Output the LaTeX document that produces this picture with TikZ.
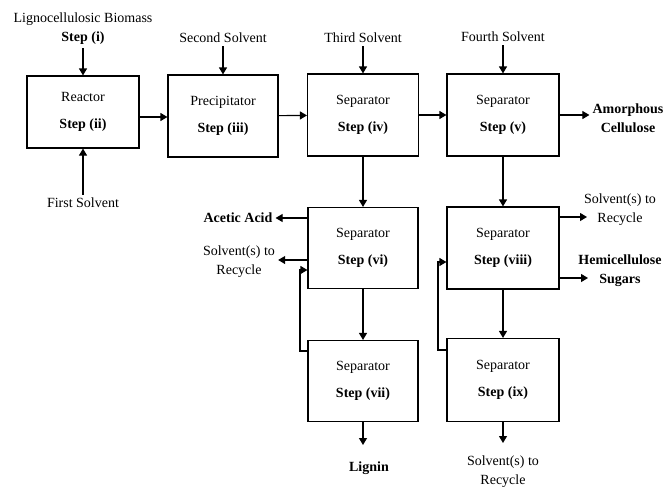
\documentclass[tikz,border=0pt]{standalone}
\usepackage{fontspec}
\setmainfont{Liberation Serif}
\usetikzlibrary{positioning,arrows.meta}

\tikzset{
  unit/.style={draw, line width=1.1pt, align=center, inner sep=0pt,
    font=\fontsize{14}{27}\selectfont},
  feed/.style={align=center, inner sep=3pt, font=\fontsize{14}{19}\selectfont},
  prod/.style={feed, font=\fontsize{14}{19}\selectfont\bfseries},
  flow/.style={line width=1.1pt, -{Triangle[length=7pt,width=8pt]}}
}

\begin{document}
\begin{tikzpicture}[x=1pt,y=-1pt]
	\useasboundingbox (0,0) rectangle (665,491);
	% process units
	\node[unit, minimum width=112pt, minimum height=72pt] (R) at (83,112) {Reactor\\\textbf{Step (ii)}};
	\node[unit, minimum width=110pt, minimum height=82pt] (P) at (223,116) {Precipitator\\\textbf{Step (iii)}};
	\node[unit, minimum width=111pt, minimum height=82pt] (S4) at (363,115) {Separator\\\textbf{Step (iv)}};
	\node[unit, minimum width=112pt, minimum height=82pt] (S5) at (503,115) {Separator\\\textbf{Step (v)}};
	\node[unit, minimum width=110pt, minimum height=81pt] (S6) at (363,248) {Separator\\\textbf{Step (vi)}};
	\node[unit, minimum width=112pt, minimum height=82pt] (S8) at (503,248) {Separator\\\textbf{Step (viii)}};
	\node[unit, minimum width=110pt, minimum height=81pt] (S7) at (363,381) {Separator\\\textbf{Step (vii)}};
	\node[unit, minimum width=112pt, minimum height=83pt] (S9) at (503,380) {Separator\\\textbf{Step (ix)}};
	% feeds
	\node[feed] (Bio) at (83,29) {Lignocellulosic Biomass\\\textbf{Step (i)}};
	\node[feed] (Sol1) at (83,203) {First Solvent};
	\node[feed] (Sol2) at (223,38) {Second Solvent};
	\node[feed] (Sol3) at (363,38) {Third Solvent};
	\node[feed] (Sol4) at (503,37) {Fourth Solvent};
	% products
	\node[prod] (Amor) at (628,118) {Amorphous\\Cellulose};
	\node[prod] (Acet) at (238,218) {Acetic Acid};
	\node[feed] (RecA) at (239,262) {Solvent(s) to\\Recycle};
	\node[feed] (RecB) at (620,210) {Solvent(s) to\\Recycle};
	\node[prod] (Hemi) at (620,271) {Hemicellulose\\Sugars};
	\node[prod] (Lig) at (369,468) {Lignin};
	\node[feed] (RecC) at (503,472) {Solvent(s) to\\Recycle};
	\coordinate (tipB) at (587,217);
	\coordinate (tipH) at (588,278);
	\coordinate (tipL) at (363,445);
	\coordinate (tipC) at (503,443);
	\coordinate (loopA1) at (300,351);
	\coordinate (loopA2) at (300,270);
	\coordinate (loopB1) at (438,350);
	\coordinate (loopB2) at (438,262);
	% main line
	\draw[flow] (Bio) -- (R);
	\draw[flow] (Sol1) -- (R);
	\draw[flow] (Sol2) -- (P.north);
	\draw[flow] (Sol3) -- (S4.north);
	\draw[flow] (Sol4) -- (S5.north);
	\draw[flow] (R.east |- 0,117) -- (P.west |- 0,117);
	\draw[flow] (P) -- (S4);
	\draw[flow] (S4) -- (S5);
	\draw[flow] (S5.east |- Amor) ++(0,-3) -- (Amor.west |- 0,115);
	\draw[flow] (S4) -- (S6);
	\draw[flow] (S5) -- (S8);
	\draw[flow] (S6) -- (S7);
	\draw[flow] (S8) -- (S9);
	% outlets
	\draw[flow] (S6.west |- Acet) -- (Acet);
	\draw[flow] (S6.west |- 0,260) -- (RecA.east |- 0,260);
	\draw[flow] (S8.east |- tipB) -- (tipB);
	\draw[flow] (S8.east |- tipH) -- (tipH);
	\draw[flow] (S7.south -| tipL) -- (tipL);
	\draw[flow] (S9) -- (tipC);
	% recycle loops
	\draw[flow] (S7.west |- loopA1) -- (loopA1) -- (loopA2) -- (S6.west |- loopA2);
	\draw[flow] (S9.west |- loopB1) -- (loopB1) -- (loopB2) -- (S8.west |- loopB2);
\end{tikzpicture}
\end{document}
